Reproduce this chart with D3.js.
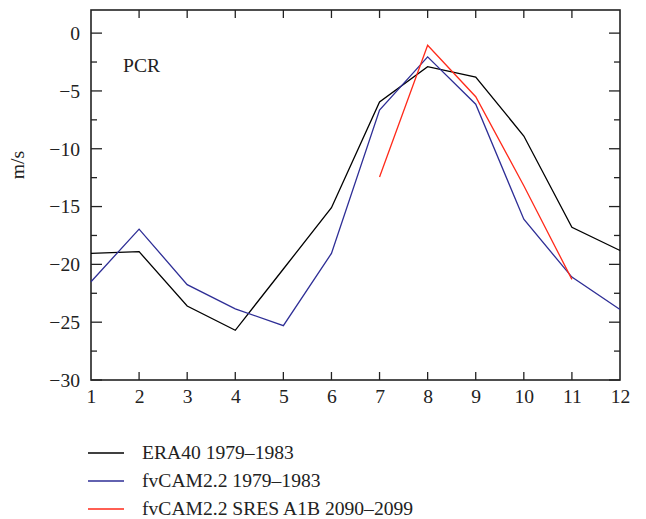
<!DOCTYPE html>
<head>
  <meta charset="utf-8">
  <script src="https://d3js.org/d3.v7.min.js"></script>
  <style>
    body { margin: 0; background: #fff; }
    svg { width: 646px; height: 519px; font-family: 'Liberation Serif', 'DejaVu Serif', serif; }
  </style>
</head>
<body>
  <svg></svg>
  <script>
    var months = [1, 2, 3, 4, 5, 6, 7, 8, 9, 10, 11, 12];
    var era40 = [-19.05, -18.9, -23.6, -25.7, -20.4, -15.1, -5.95, -2.9, -3.8, -8.9, -16.8, -18.8];
    var fvcam = [-21.5, -16.95, -21.75, -23.85, -25.3, -19.05, -6.65, -2.05, -6.15, -16.1, -21.1, -23.9];
    var a1bMonths = [7, 8, 9, 10, 11];
    var a1b = [-12.45, -1.05, -5.5, -13.2, -21.3];
    var yTicks = [0, -5, -10, -15, -20, -25, -30];

    var series = [
      {name: 'ERA40 1979\u20131983', color: '#000', x: months, y: era40},
      {name: 'fvCAM2.2 1979\u20131983', color: '#2e2e96', x: months, y: fvcam},
      {name: 'fvCAM2.2 SRES A1B 2090\u20132099', color: '#ff2a1a', x: a1bMonths, y: a1b}
    ];

    var plotL = 91, plotR = 620, plotT = 10, plotB = 380;
    var fs = 19.6;
    var svg = d3.select('svg');
    var x = d3.scaleLinear().domain([1, 12]).range([plotL, plotR]);
    var y = d3.scaleLinear().domain([-30, 2]).range([plotB, plotT]);

    // axes, ticks inward
    var minor = d3.range(-27.5, 2, 5);
    function styleAxis(s) {
      s.attr('font-size', null).attr('font-family', null);
      s.select('.domain').remove();
      s.selectAll('text').attr('fill', '#222').attr('font-size', fs);
    }

    svg.append('g').attr('transform', 'translate(' + plotL + ',0)')
      .call(d3.axisLeft(y).tickValues(yTicks).tickSize(0).tickPadding(11)
        .tickFormat(function(d) { return d < 0 ? '\u2212' + Math.abs(d) : d; }))
      .call(styleAxis);
    svg.append('g').attr('transform', 'translate(0,' + plotB + ')')
      .call(d3.axisBottom(x).tickValues(months).tickSize(0).tickPadding(9))
      .call(styleAxis);

    var ticks = svg.append('g').attr('stroke', '#222').attr('stroke-width', 1.3);
    yTicks.forEach(function(v) {
      ticks.append('line').attr('x1', plotL).attr('x2', plotL + 11).attr('y1', y(v)).attr('y2', y(v));
      ticks.append('line').attr('x1', plotR).attr('x2', plotR - 11).attr('y1', y(v)).attr('y2', y(v));
    });
    minor.forEach(function(v) {
      ticks.append('line').attr('x1', plotL).attr('x2', plotL + 6).attr('y1', y(v)).attr('y2', y(v));
      ticks.append('line').attr('x1', plotR).attr('x2', plotR - 6).attr('y1', y(v)).attr('y2', y(v));
    });
    months.slice(1, -1).forEach(function(m) {
      ticks.append('line').attr('x1', x(m)).attr('x2', x(m)).attr('y1', plotB).attr('y2', plotB - 8);
      ticks.append('line').attr('x1', x(m)).attr('x2', x(m)).attr('y1', plotT).attr('y2', plotT + 8);
    });
    svg.append('rect').attr('x', plotL).attr('y', plotT)
      .attr('width', plotR - plotL).attr('height', plotB - plotT)
      .attr('fill', 'none').attr('stroke', '#222').attr('stroke-width', 1.6);

    // lines
    var line = d3.line();
    series.forEach(function(s) {
      svg.append('path')
        .attr('d', line(s.x.map(function(m, i) { return [x(m), y(s.y[i])]; })))
        .attr('fill', 'none').attr('stroke', s.color).attr('stroke-width', 1.3);
    });

    svg.append('text').attr('x', 123).attr('y', 72).attr('font-size', fs).attr('fill', '#222').text('PCR');
    svg.append('text').attr('transform', 'translate(24,165)rotate(-90)')
      .attr('text-anchor', 'middle').attr('font-size', fs).attr('fill', '#222').text('m/s');

    // legend
    var leg = svg.append('g').selectAll('g').data(series).enter().append('g')
      .attr('transform', function(d, i) { return 'translate(88,' + (453 + i * 28) + ')'; });
    leg.append('line').attr('x1', 0).attr('x2', 36).attr('y1', 0).attr('y2', 0)
      .attr('stroke', function(d) { return d.color; }).attr('stroke-width', 1.3);
    leg.append('text').attr('x', 54).attr('y', 6).attr('font-size', fs).attr('fill', '#222')
      .text(function(d) { return d.name; });
  </script>
</body>
